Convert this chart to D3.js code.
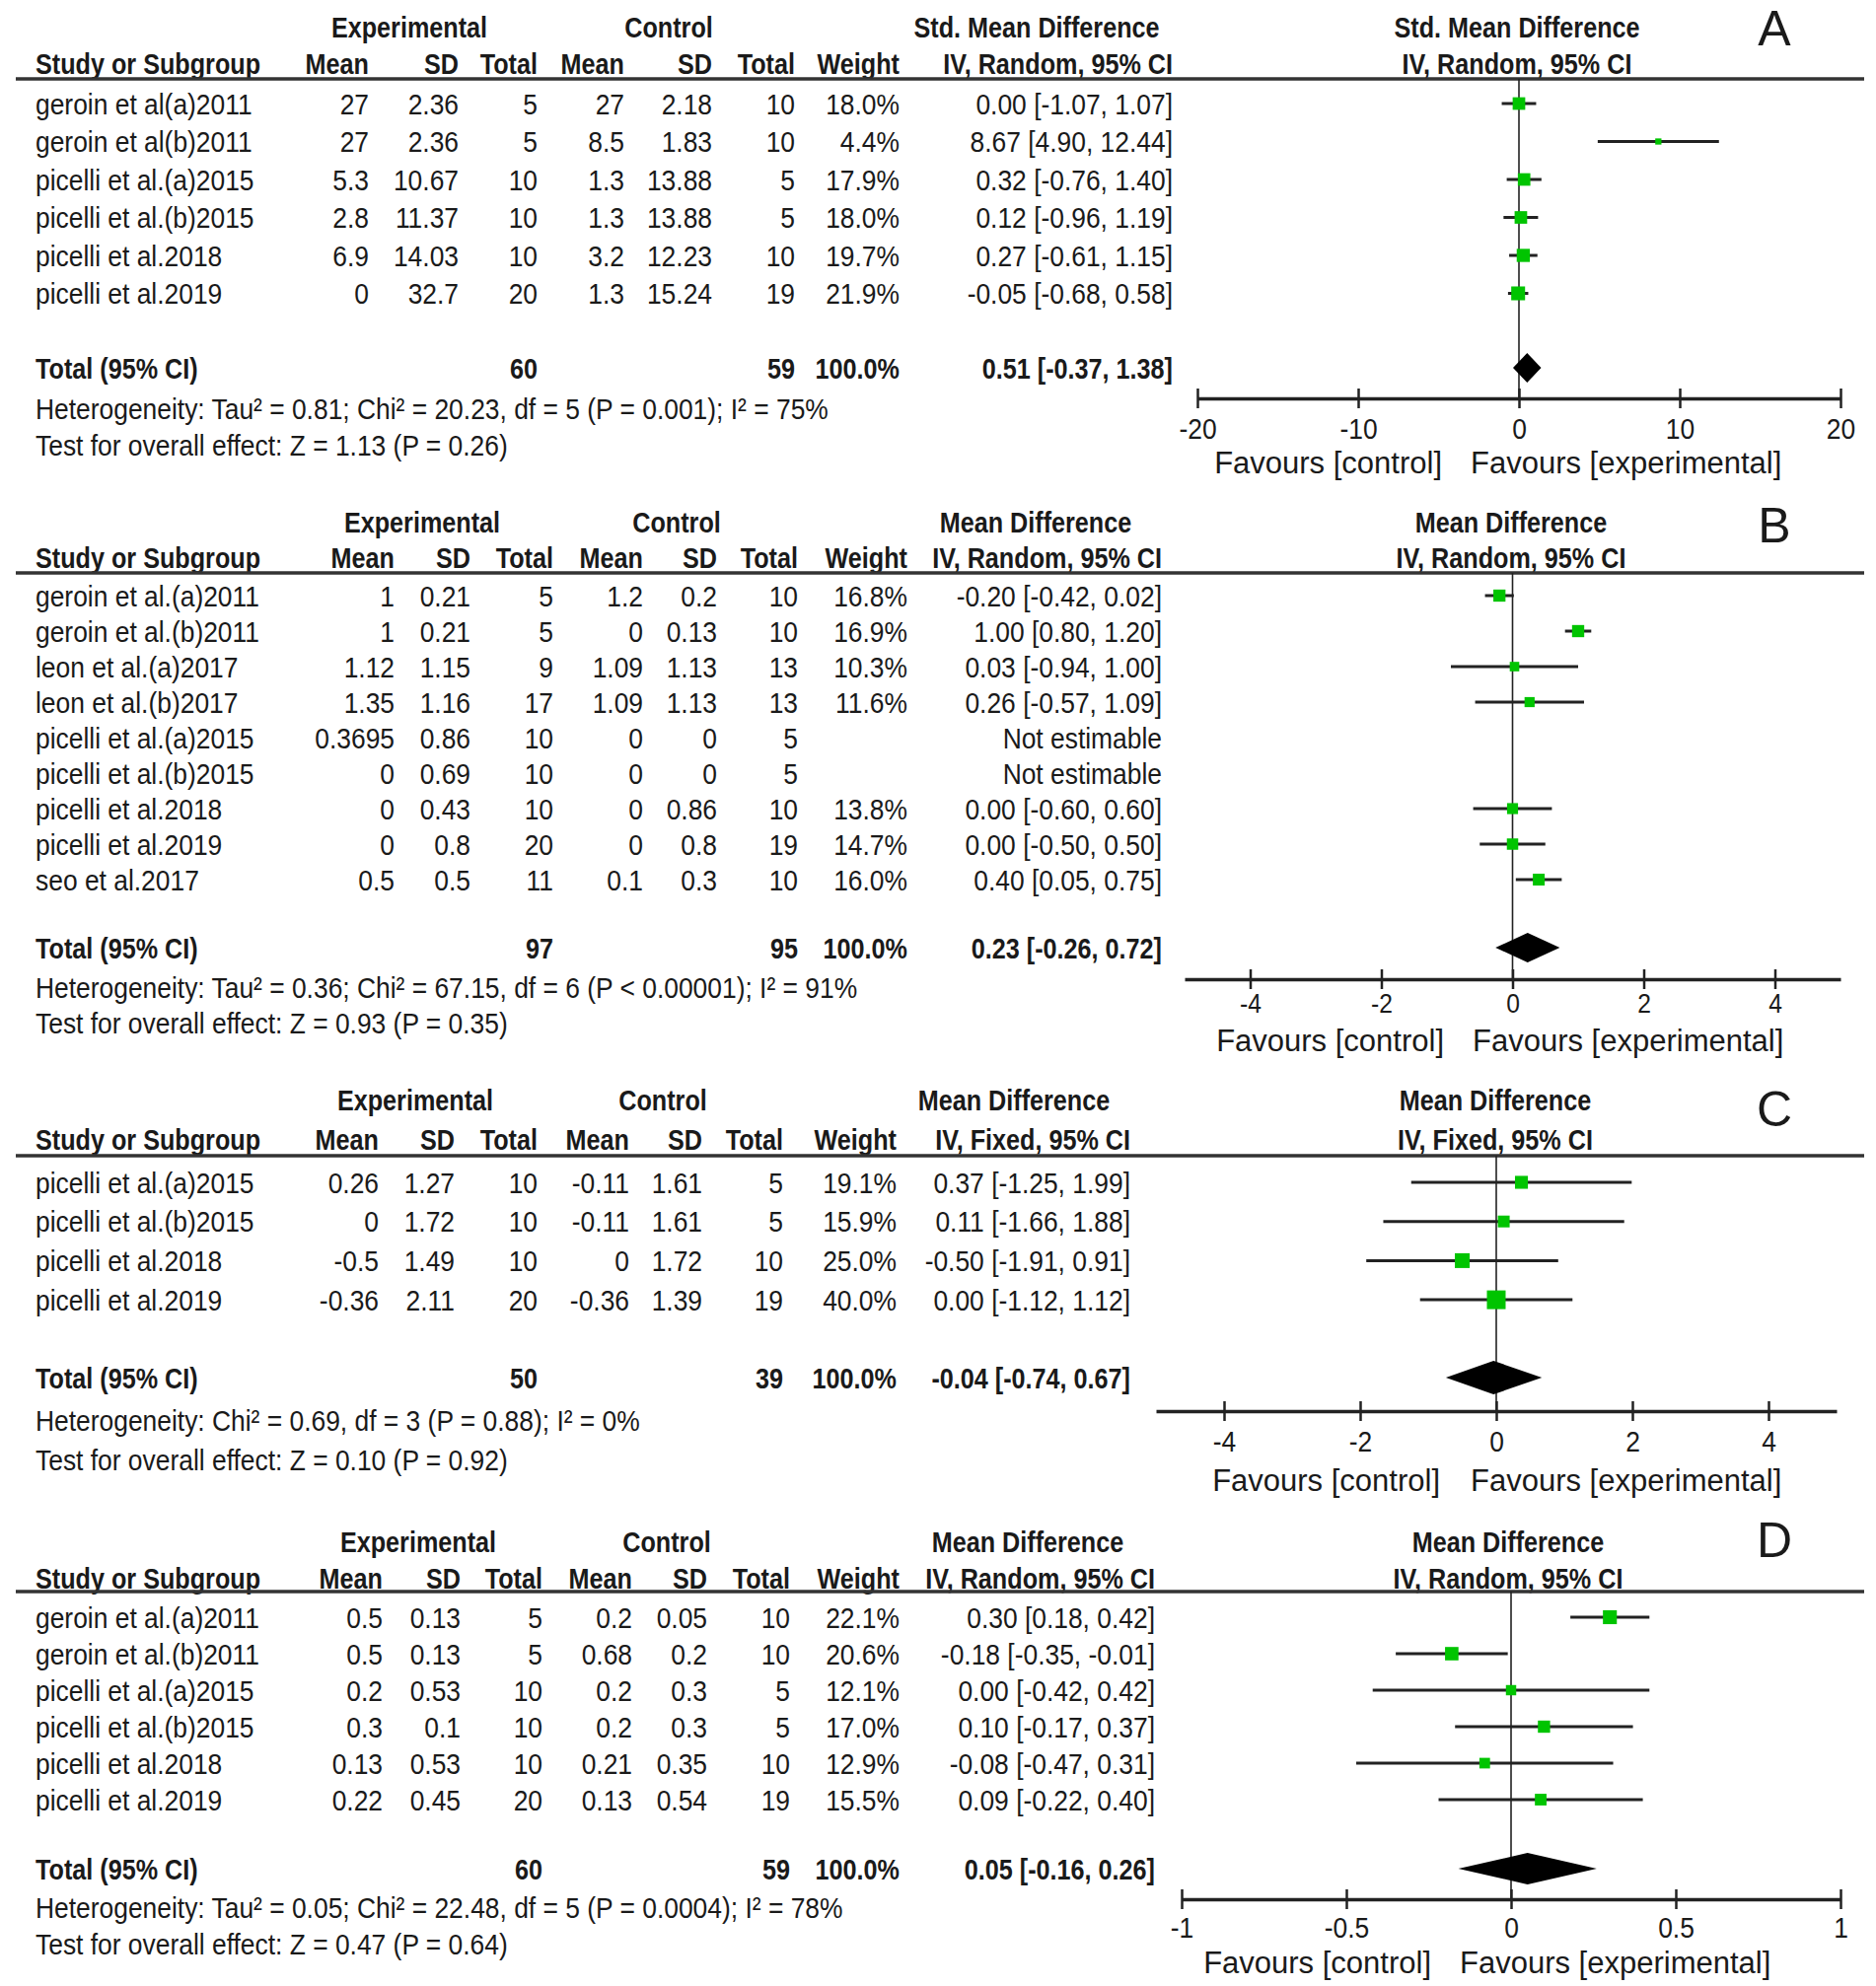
<!DOCTYPE html>
<html>
<head>
<meta charset="utf-8">
<script src="https://cdn.jsdelivr.net/npm/d3@7"></script>
<style>
  body { margin: 0; background: #fff; }
  svg { display: block; }
  text { font-family: "Liberation Sans", Arial, sans-serif; fill: #1a1a1a; }
</style>
</head>
<body>
<svg id="chart"></svg>
<script>
// ---- panel A: Std. Mean Difference, IV Random ----
const studiesA = ['geroin et al(a)2011', 'geroin et al(b)2011', 'picelli et al.(a)2015', 'picelli et al.(b)2015', 'picelli et al.2018', 'picelli et al.2019']
const expMeanA = ['27', '27', '5.3', '2.8', '6.9', '0']
const expSdA = ['2.36', '2.36', '10.67', '11.37', '14.03', '32.7']
const expNA = [5, 5, 10, 10, 10, 20]
const ctlMeanA = ['27', '8.5', '1.3', '1.3', '3.2', '1.3']
const ctlSdA = ['2.18', '1.83', '13.88', '13.88', '12.23', '15.24']
const ctlNA = [10, 10, 5, 5, 10, 19]
const weightA = [18.0, 4.4, 17.9, 18.0, 19.7, 21.9]
const estA = [0.00, 8.67, 0.32, 0.12, 0.27, -0.05]
const loA = [-1.07, 4.90, -0.76, -0.96, -0.61, -0.68]
const hiA = [1.07, 12.44, 1.40, 1.19, 1.15, 0.58]
const totalA = [60, 59]
const pooledA = [0.51, -0.37, 1.38]
const ticksA = [-20, -10, 0, 10, 20]
const tickLabelsA = ['-20', '-10', '0', '10', '20']
const hetA = 'Heterogeneity: Tau² = 0.81; Chi² = 20.23, df = 5 (P = 0.001); I² = 75%'
const testA = 'Test for overall effect: Z = 1.13 (P = 0.26)'

// ---- panel B: Mean Difference, IV Random ----
const studiesB = ['geroin et al.(a)2011', 'geroin et al.(b)2011', 'leon et al.(a)2017', 'leon et al.(b)2017', 'picelli et al.(a)2015', 'picelli et al.(b)2015', 'picelli et al.2018', 'picelli et al.2019', 'seo et al.2017']
const expMeanB = ['1', '1', '1.12', '1.35', '0.3695', '0', '0', '0', '0.5']
const expSdB = ['0.21', '0.21', '1.15', '1.16', '0.86', '0.69', '0.43', '0.8', '0.5']
const expNB = [5, 5, 9, 17, 10, 10, 10, 20, 11]
const ctlMeanB = ['1.2', '0', '1.09', '1.09', '0', '0', '0', '0', '0.1']
const ctlSdB = ['0.2', '0.13', '1.13', '1.13', '0', '0', '0.86', '0.8', '0.3']
const ctlNB = [10, 10, 13, 13, 5, 5, 10, 19, 10]
const weightB = [16.8, 16.9, 10.3, 11.6, null, null, 13.8, 14.7, 16.0]
const estB = [-0.20, 1.00, 0.03, 0.26, null, null, 0.00, 0.00, 0.40]
const loB = [-0.42, 0.80, -0.94, -0.57, null, null, -0.60, -0.50, 0.05]
const hiB = [0.02, 1.20, 1.00, 1.09, null, null, 0.60, 0.50, 0.75]
const totalB = [97, 95]
const pooledB = [0.23, -0.26, 0.72]
const ticksB = [-4, -2, 0, 2, 4]
const tickLabelsB = ['-4', '-2', '0', '2', '4']
const hetB = 'Heterogeneity: Tau² = 0.36; Chi² = 67.15, df = 6 (P < 0.00001); I² = 91%'
const testB = 'Test for overall effect: Z = 0.93 (P = 0.35)'

// ---- panel C: Mean Difference, IV Fixed ----
const studiesC = ['picelli et al.(a)2015', 'picelli et al.(b)2015', 'picelli et al.2018', 'picelli et al.2019']
const expMeanC = ['0.26', '0', '-0.5', '-0.36']
const expSdC = ['1.27', '1.72', '1.49', '2.11']
const expNC = [10, 10, 10, 20]
const ctlMeanC = ['-0.11', '-0.11', '0', '-0.36']
const ctlSdC = ['1.61', '1.61', '1.72', '1.39']
const ctlNC = [5, 5, 10, 19]
const weightC = [19.1, 15.9, 25.0, 40.0]
const estC = [0.37, 0.11, -0.50, 0.00]
const loC = [-1.25, -1.66, -1.91, -1.12]
const hiC = [1.99, 1.88, 0.91, 1.12]
const totalC = [50, 39]
const pooledC = [-0.04, -0.74, 0.67]
const ticksC = [-4, -2, 0, 2, 4]
const tickLabelsC = ['-4', '-2', '0', '2', '4']
const hetC = 'Heterogeneity: Chi² = 0.69, df = 3 (P = 0.88); I² = 0%'
const testC = 'Test for overall effect: Z = 0.10 (P = 0.92)'

// ---- panel D: Mean Difference, IV Random ----
const studiesD = ['geroin et al.(a)2011', 'geroin et al.(b)2011', 'picelli et al.(a)2015', 'picelli et al.(b)2015', 'picelli et al.2018', 'picelli et al.2019']
const expMeanD = ['0.5', '0.5', '0.2', '0.3', '0.13', '0.22']
const expSdD = ['0.13', '0.13', '0.53', '0.1', '0.53', '0.45']
const expND = [5, 5, 10, 10, 10, 20]
const ctlMeanD = ['0.2', '0.68', '0.2', '0.2', '0.21', '0.13']
const ctlSdD = ['0.05', '0.2', '0.3', '0.3', '0.35', '0.54']
const ctlND = [10, 10, 5, 5, 10, 19]
const weightD = [22.1, 20.6, 12.1, 17.0, 12.9, 15.5]
const estD = [0.30, -0.18, 0.00, 0.10, -0.08, 0.09]
const loD = [0.18, -0.35, -0.42, -0.17, -0.47, -0.22]
const hiD = [0.42, -0.01, 0.42, 0.37, 0.31, 0.40]
const totalD = [60, 59]
const pooledD = [0.05, -0.16, 0.26]
const ticksD = [-1, -0.5, 0, 0.5, 1]
const tickLabelsD = ['-1', '-0.5', '0', '0.5', '1']
const hetD = 'Heterogeneity: Tau² = 0.05; Chi² = 22.48, df = 5 (P = 0.0004); I² = 78%'
const testD = 'Test for overall effect: Z = 0.47 (P = 0.64)'

const width = 1902
const height = 2014
const svg = d3.select('#chart').attr('width', width).attr('height', height)
svg.append('rect').attr('width', width).attr('height', height).attr('fill', '#fff')

// horizontal squeeze, regular vs bold table text
const narrow = 0.88
const narrowBold = 0.84
const fs = 30

// text helper: condensed text anchored at x,y
const txt = (g, x, y, s, anchor, bold, size, sx) => {
    const k = sx !== undefined ? sx : (bold ? narrowBold : narrow)
    g.append('text')
        .attr('transform', `translate(${x},${y}) scale(${k},1)`)
        .attr('dy', '0.35em')
        .attr('text-anchor', anchor)
        .attr('font-size', size || fs)
        .attr('font-weight', bold ? 'bold' : 'normal')
        .text(s)
}

const fmt = v => v.toFixed(2)

const drawPanel = p => {
    const g = svg.append('g')
    const L = p.layout
    const c = L.cols
    // titles
    txt(g, L.expX, L.titleY, 'Experimental', 'middle', true)
    txt(g, L.ctlX, L.titleY, 'Control', 'middle', true)
    txt(g, L.effX, L.titleY, p.effect, 'middle', true)
    txt(g, L.forestX, L.titleY, p.effect, 'middle', true)
    txt(g, 1799, L.letterY, p.letter, 'middle', false, 50, 1)
    // sub header
    txt(g, 36, L.subY, 'Study or Subgroup', 'start', true)
    const heads = ['Mean', 'SD', 'Total', 'Mean', 'SD', 'Total', 'Weight', p.method]
    heads.forEach((h, i) => txt(g, c[i], L.subY, h, 'end', true))
    txt(g, L.forestX, L.subY, p.method, 'middle', true)
    g.append('line')
        .attr('x1', 16).attr('x2', 1890)
        .attr('y1', L.lineY).attr('y2', L.lineY)
        .attr('stroke', '#333').attr('stroke-width', 3.5)

    const rowY = i => L.rowY0 + i * L.step
    p.studies.forEach((s, i) => {
        const y = rowY(i)
        txt(g, 36, y, s, 'start')
        txt(g, c[0], y, p.expMean[i], 'end')
        txt(g, c[1], y, p.expSd[i], 'end')
        txt(g, c[2], y, p.expN[i], 'end')
        txt(g, c[3], y, p.ctlMean[i], 'end')
        txt(g, c[4], y, p.ctlSd[i], 'end')
        txt(g, c[5], y, p.ctlN[i], 'end')
        if (p.weight[i] !== null) txt(g, c[6], y, p.weight[i].toFixed(1) + '%', 'end')
        const ci = p.est[i] === null ? 'Not estimable'
            : `${fmt(p.est[i])} [${fmt(p.lo[i])}, ${fmt(p.hi[i])}]`
        txt(g, c[7], y, ci, 'end')
    })
    txt(g, 36, L.totalY, 'Total (95% CI)', 'start', true)
    txt(g, c[2], L.totalY, p.total[0], 'end', true)
    txt(g, c[5], L.totalY, p.total[1], 'end', true)
    txt(g, c[6], L.totalY, '100.0%', 'end', true)
    txt(g, c[7], L.totalY, `${fmt(p.pooled[0])} [${fmt(p.pooled[1])}, ${fmt(p.pooled[2])}]`, 'end', true)
    txt(g, 36, L.hetY, p.het, 'start')
    txt(g, 36, L.testY, p.test, 'start')

    // forest plot
    const x = d3.scaleLinear().domain(p.domain).range(L.range)
    g.append('line')
        .attr('x1', x(0)).attr('x2', x(0))
        .attr('y1', L.lineY).attr('y2', L.axisY)
        .attr('stroke', '#222').attr('stroke-width', 1.6)

    const rows = p.studies.map((s, i) => ({i, est: p.est[i], lo: p.lo[i], hi: p.hi[i], w: p.weight[i]}))
        .filter(d => d.est !== null)
    g.selectAll('line.ci').data(rows).enter().append('line')
        .attr('class', 'ci')
        .attr('x1', d => x(d.lo)).attr('x2', d => x(d.hi))
        .attr('y1', d => rowY(d.i)).attr('y2', d => rowY(d.i))
        .attr('stroke', '#222').attr('stroke-width', 3)
    g.selectAll('rect.mk').data(rows).enter().append('rect')
        .attr('class', 'mk')
        .attr('x', d => x(d.est) - 1.5 * Math.sqrt(d.w))
        .attr('y', d => rowY(d.i) - 1.5 * Math.sqrt(d.w))
        .attr('width', d => 3 * Math.sqrt(d.w))
        .attr('height', d => 3 * Math.sqrt(d.w))
        .attr('fill', '#00c400')
    const dh = L.diamond
    g.append('path')
        .attr('d', `M${x(p.pooled[1])},${L.totalY} L${x(p.pooled[0])},${L.totalY - dh} L${x(p.pooled[2])},${L.totalY} L${x(p.pooled[0])},${L.totalY + dh} Z`)
        .attr('fill', '#000')

    const ax = g.append('g')
        .attr('transform', `translate(0,${L.axisY})`)
        .call(d3.axisBottom(x).tickValues(p.ticks).tickFormat((d, i) => p.tickLabels[i]).tickSizeOuter(0))
    ax.select('.domain').attr('stroke', '#222').attr('stroke-width', 3.5)
    ax.selectAll('.tick line').attr('y1', -10).attr('y2', 10).attr('stroke', '#222').attr('stroke-width', 2.5)
    ax.selectAll('.tick text')
        .attr('y', 0).attr('dy', '0.35em')
        .attr('transform', `translate(0,${L.tickDy}) scale(${narrow},1)`)
        .attr('font-size', L.tickFs || fs).attr('font-family', '"Liberation Sans", Arial, sans-serif')
        .attr('fill', '#1a1a1a')
    txt(g, L.favL, L.favY, 'Favours [control]', 'end', false, 31, 1)
    txt(g, L.favR, L.favY, 'Favours [experimental]', 'start', false, 31, 1)
}

drawPanel({
    letter: 'A', effect: 'Std. Mean Difference', method: 'IV, Random, 95% CI',
    studies: studiesA, expMean: expMeanA, expSd: expSdA, expN: expNA,
    ctlMean: ctlMeanA, ctlSd: ctlSdA, ctlN: ctlNA, weight: weightA,
    est: estA, lo: loA, hi: hiA, total: totalA, pooled: pooledA,
    ticks: ticksA, tickLabels: tickLabelsA, het: hetA, test: testA, domain: [-20, 20],
    layout: {
        titleY: 27, subY: 64, lineY: 80, rowY0: 105, step: 38.5, totalY: 373, hetY: 414, testY: 451,
        axisY: 404, tickDy: 30, favY: 469, letterY: 28, diamond: 15,
        expX: 415, ctlX: 678, effX: 1051, forestX: 1538,
        cols: [374, 465, 545, 633, 722, 806, 912, 1189],
        range: [1214, 1866], favL: 1462, favR: 1491
    }
})

drawPanel({
    letter: 'B', effect: 'Mean Difference', method: 'IV, Random, 95% CI',
    studies: studiesB, expMean: expMeanB, expSd: expSdB, expN: expNB,
    ctlMean: ctlMeanB, ctlSd: ctlSdB, ctlN: ctlNB, weight: weightB,
    est: estB, lo: loB, hi: hiB, total: totalB, pooled: pooledB,
    ticks: ticksB, tickLabels: tickLabelsB, het: hetB, test: testB, domain: [-5, 5],
    layout: {
        titleY: 529, subY: 565, lineY: 581, rowY0: 604, step: 36, totalY: 961, hetY: 1001, testY: 1037,
        axisY: 993, tickDy: 24, tickFs: 28, favY: 1055, letterY: 532, diamond: 15,
        expX: 428, ctlX: 686, effX: 1050, forestX: 1532,
        cols: [400, 477, 561, 652, 727, 809, 920, 1178],
        range: [1201, 1866], favL: 1464, favR: 1493
    }
})

drawPanel({
    letter: 'C', effect: 'Mean Difference', method: 'IV, Fixed, 95% CI',
    studies: studiesC, expMean: expMeanC, expSd: expSdC, expN: expNC,
    ctlMean: ctlMeanC, ctlSd: ctlSdC, ctlN: ctlNC, weight: weightC,
    est: estC, lo: loC, hi: hiC, total: totalC, pooled: pooledC,
    ticks: ticksC, tickLabels: tickLabelsC, het: hetC, test: testC, domain: [-5, 5],
    layout: {
        titleY: 1115, subY: 1155, lineY: 1172, rowY0: 1199, step: 39.7, totalY: 1397, hetY: 1440, testY: 1480,
        axisY: 1431, tickDy: 30, favY: 1501, letterY: 1124, diamond: 17,
        expX: 421, ctlX: 672, effX: 1028, forestX: 1516,
        cols: [384, 461, 545, 638, 712, 794, 909, 1146],
        range: [1172, 1862], favL: 1460, favR: 1491
    }
})

drawPanel({
    letter: 'D', effect: 'Mean Difference', method: 'IV, Random, 95% CI',
    studies: studiesD, expMean: expMeanD, expSd: expSdD, expN: expND,
    ctlMean: ctlMeanD, ctlSd: ctlSdD, ctlN: ctlND, weight: weightD,
    est: estD, lo: loD, hi: hiD, total: totalD, pooled: pooledD,
    ticks: ticksD, tickLabels: tickLabelsD, het: hetD, test: testD, domain: [-1, 1],
    layout: {
        titleY: 1563, subY: 1600, lineY: 1614, rowY0: 1640, step: 37, totalY: 1895, hetY: 1934, testY: 1971,
        axisY: 1926, tickDy: 28, favY: 1990, letterY: 1561, diamond: 16,
        expX: 424, ctlX: 676, effX: 1042, forestX: 1529,
        cols: [388, 467, 550, 641, 717, 801, 912, 1171],
        range: [1198, 1866], favL: 1451, favR: 1480
    }
})
</script>
</body>
</html>
